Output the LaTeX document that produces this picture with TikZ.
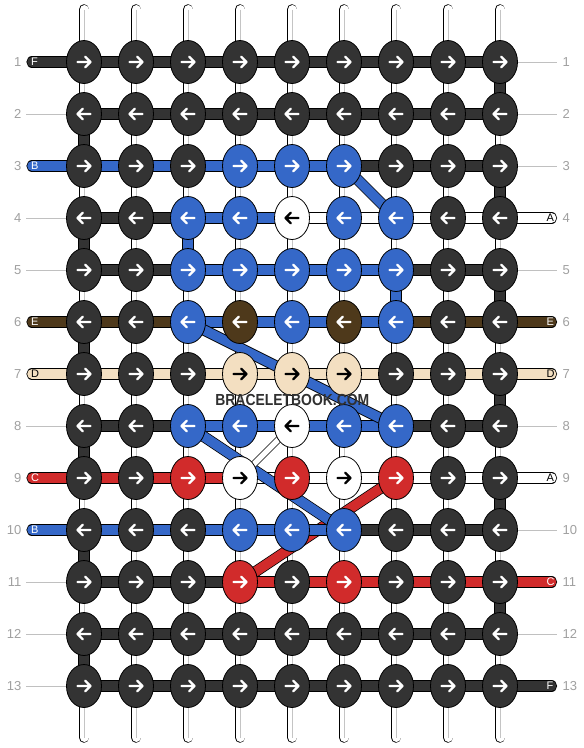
\documentclass[tikz,border=0pt]{standalone}
\usepackage{fontspec}
\setmainfont{Liberation Sans}
\usetikzlibrary{shapes.geometric}
\definecolor{dk}{HTML}{333333}
\definecolor{bl}{HTML}{3568C8}
\definecolor{rd}{HTML}{D12B2B}
\definecolor{br}{HTML}{4E391B}
\definecolor{bg}{HTML}{F3DFC1}
\definecolor{wt}{HTML}{FFFFFF}
\colorlet{adk}{white}\colorlet{abl}{white}\colorlet{ard}{white}\colorlet{abr}{white}
\colorlet{abg}{black}\colorlet{awt}{black}
\definecolor{numc}{HTML}{A0A0A0}
\definecolor{guidec}{HTML}{C0C0C0}
\definecolor{warpc}{HTML}{C4C4C4}
\begin{document}
\begin{tikzpicture}[x=1pt,y=-1pt,
  seg/.style={draw=black, line width=0.8pt, double=#1, double distance=9.6pt},
  lead/.style={seg=#1, line cap=round},
  thinseg/.style={draw=black, line width=0.7pt, double=white, double distance=5.6pt},
  warpout/.style={draw=black, line width=10.6pt, line cap=round},
  warpin/.style={draw=white, line width=9pt, line cap=round},
  warpln/.style={draw=warpc, line width=0.7pt},
  guideln/.style={draw=guidec, line width=0.8pt},
  knot/.style={ellipse, draw=black, line width=0.8pt, minimum width=35pt, minimum height=43pt, inner sep=0pt},
  arw/.style={line width=2.4pt, line cap=round, line join=round},
  num/.style={text=numc, font=\fontsize{13}{13}\selectfont, inner sep=0pt},
  ltr/.style={font=\fontsize{11}{11}\selectfont, inner sep=0pt},
]
\useasboundingbox (0,0) rectangle (584,748);
\fill[white] (0,0) rectangle (584,748);

% grid coordinates
\foreach \r in {1,...,13}{
  \foreach \j in {1,...,9}{
    \coordinate (p-\r-\j) at ({84+52*(\j-1)},{62+52*(\r-1)});
  }
}

% warp strings
\foreach \j in {1,...,9}{
  \coordinate (wt-\j) at ({84+52*(\j-1)},9.5);
  \coordinate (wb-\j) at ({84+52*(\j-1)},737.5);
  \draw[warpout] (wt-\j) -- (wb-\j);
  \draw[warpin] (wt-\j) -- (wb-\j);
  \draw[warpln] (wt-\j) -- (wb-\j);
}

% guide lines (rows without a string end)
\foreach \r in {2,4,5,8,11,12,13}{
  \pgfmathsetmacro\yy{62+52*(\r-1)}
  \coordinate (gs-\r) at (26,\yy);
  \draw[guideln] (gs-\r) -- (p-\r-1);
}
\foreach \r in {1,2,3,5,8,10,12}{
  \pgfmathsetmacro\yy{62+52*(\r-1)}
  \coordinate (ge-\r) at (557,\yy);
  \draw[guideln] (p-\r-9) -- (ge-\r);
}

% red diagonal (under the rows)
\draw[seg=rd] (p-9-7) -- (p-11-4);

% string ends
\foreach \r/\c/\t/\tc in {1/dk/F/white,3/bl/B/white,6/br/E/white,7/bg/D/black,9/rd/C/white,10/bl/B/white}{
  \pgfmathsetmacro\yy{62+52*(\r-1)}
  \coordinate (ls-\r) at (32,\yy);
  \draw[lead=\c] (ls-\r) -- (p-\r-1);
  \node[ltr, text=\tc, anchor=west] (lt-\r) at (31,\yy) {\t};
}
\foreach \r/\c/\t/\tc in {4/wt/A/black,6/br/E/white,7/bg/D/black,9/wt/A/black,11/rd/C/white,13/dk/F/white}{
  \pgfmathsetmacro\yy{62+52*(\r-1)}
  \coordinate (le-\r) at (551.5,\yy);
  \draw[lead=\c] (p-\r-9) -- (le-\r);
  \node[ltr, text=\tc, anchor=west] (rt-\r) at (546.5,\yy) {\t};
}

% horizontal segments
\foreach \r/\cl in {
  1/{dk,dk,dk,dk,dk,dk,dk,dk},
  2/{dk,dk,dk,dk,dk,dk,dk,dk},
  3/{bl,bl,bl,bl,bl,dk,dk,dk},
  4/{dk,dk,bl,bl,wt,wt,wt,wt},
  5/{dk,dk,bl,bl,bl,bl,dk,dk},
  6/{br,br,bl,bl,bl,bl,br,br},
  7/{bg,bg,bg,bg,bg,bg,bg,bg},
  8/{dk,dk,bl,bl,bl,bl,dk,dk},
  9/{rd,rd,rd,wt,wt,wt,wt,wt},
  10/{bl,bl,bl,bl,bl,dk,dk,dk},
  11/{dk,dk,dk,rd,rd,rd,rd,rd},
  12/{dk,dk,dk,dk,dk,dk,dk,dk},
  13/{dk,dk,dk,dk,dk,dk,dk,dk}}{
  \foreach \c [count=\j] in \cl {
    \pgfmathtruncatemacro\k{\j+1}
    \draw[seg=\c] (p-\r-\j) -- (p-\r-\k);
  }
}

% vertical turns
\foreach \j/\r/\c in {9/1/dk,1/2/dk,9/3/dk,1/4/dk,3/4/bl,9/5/dk,7/5/bl,1/6/dk,9/7/dk,1/8/dk,9/9/dk,1/10/dk,9/11/dk,1/12/dk}{
  \pgfmathtruncatemacro\rn{\r+1}
  \draw[seg=\c] (p-\r-\j) -- (p-\rn-\j);
}

% diagonals
\draw[seg=bl] (p-3-6) -- (p-4-7);
\draw[seg=bl] (p-6-3) -- (p-8-7);
\draw[seg=bl] (p-8-3) -- (p-10-6);
\draw[thinseg] (p-8-5) -- (p-9-4);

% knots with arrows
\foreach \r/\cl in {
  1/{dk,dk,dk,dk,dk,dk,dk,dk,dk},
  2/{dk,dk,dk,dk,dk,dk,dk,dk,dk},
  3/{dk,dk,dk,bl,bl,bl,dk,dk,dk},
  4/{dk,dk,bl,bl,wt,bl,bl,dk,dk},
  5/{dk,dk,bl,bl,bl,bl,bl,dk,dk},
  6/{dk,dk,bl,br,bl,br,bl,dk,dk},
  7/{dk,dk,dk,bg,bg,bg,dk,dk,dk},
  8/{dk,dk,bl,bl,wt,bl,bl,dk,dk},
  9/{dk,dk,rd,wt,rd,wt,rd,dk,dk},
  10/{dk,dk,dk,bl,bl,bl,dk,dk,dk},
  11/{dk,dk,dk,rd,dk,rd,dk,dk,dk},
  12/{dk,dk,dk,dk,dk,dk,dk,dk,dk},
  13/{dk,dk,dk,dk,dk,dk,dk,dk,dk}}{
  \ifodd\r \def\sx{1}\else\def\sx{-1}\fi
  \foreach \c [count=\j] in \cl {
    \node[knot, fill=\c] (k-\r-\j) at (p-\r-\j) {};
    \edef\ac{a\c}
    \draw[arw, draw=\ac, shift={(p-\r-\j)}, xscale=\sx] (-6.5,0) -- (6.5,0) (1.2,-5.3) -- (6.5,0) -- (1.2,5.3);
  }
}

% row numbers
\foreach \r in {1,...,13}{
  \pgfmathsetmacro\yy{62+52*(\r-1)}
  \node[num, anchor=east] (nl-\r) at (21.5,\yy) {\r};
  \node[num, anchor=west] (nr-\r) at (562.5,\yy) {\r};
}

% watermark
\node[inner sep=0pt, text=dk!95!black, font=\fontsize{16}{16}\selectfont\bfseries] (wm) at (292.3,399.5) {\scalebox{0.87}[1]{BRACELETBOOK.COM}};
\end{tikzpicture}
\end{document}
